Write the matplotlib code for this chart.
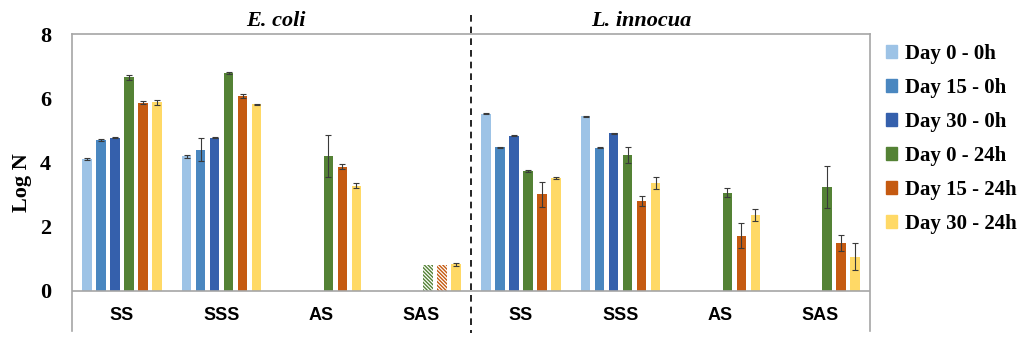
import numpy as np
import matplotlib
matplotlib.use('Agg')
import matplotlib.pyplot as plt

# categories: E. coli (SS, SSS, AS, SAS) then L. innocua (SS, SSS, AS, SAS)
categories = ['SS', 'SSS', 'AS', 'SAS', 'SS', 'SSS', 'AS', 'SAS']
series = ['Day 0 - 0h', 'Day 15 - 0h', 'Day 30 - 0h',
          'Day 0 - 24h', 'Day 15 - 24h', 'Day 30 - 24h']
colors = ['#9DC3E6', '#4A87C0', '#3560AC', '#548235', '#C55A11', '#FFD966']

nan = np.nan
d0_0h = [4.11, 4.19, nan, nan, 5.52, 5.44, nan, nan]
d15_0h = [4.70, 4.39, nan, nan, 4.47, 4.46, nan, nan]
d30_0h = [4.77, 4.77, nan, nan, 4.83, 4.91, nan, nan]
d0_24h = [6.65, 6.78, 4.21, 0.81, 3.73, 4.22, 3.06, 3.24]
d15_24h = [5.86, 6.06, 3.87, 0.81, 3.01, 2.81, 1.72, 1.49]
d30_24h = [5.87, 5.81, 3.27, 0.83, 3.52, 3.36, 2.37, 1.06]

e0_0h = [0.03, 0.05, nan, nan, 0.02, 0.02, nan, nan]
e15_0h = [0.03, 0.36, nan, nan, 0.02, 0.02, nan, nan]
e30_0h = [0.02, 0.02, nan, nan, 0.02, 0.02, nan, nan]
e0_24h = [0.08, 0.03, 0.65, nan, 0.03, 0.25, 0.13, 0.65]
e15_24h = [0.05, 0.06, 0.07, nan, 0.39, 0.16, 0.40, 0.25]
e30_24h = [0.09, 0.02, 0.08, 0.05, 0.04, 0.20, 0.19, 0.42]

# below-detection bars (E. coli SAS) drawn hatched
hatched = {3: [3], 4: [3]}

values = [d0_0h, d15_0h, d30_0h, d0_24h, d15_24h, d30_24h]
errors = [e0_0h, e15_0h, e30_0h, e0_24h, e15_24h, e30_24h]

serif = 'Liberation Serif'
sans = 'Liberation Sans'
plt.rcParams['hatch.linewidth'] = 1.0

fig = plt.figure(figsize=(10.24, 3.44), dpi=100)
ax = fig.add_axes([72 / 1024, 1 - 331 / 344, 798 / 1024, 297 / 344])

x = np.arange(len(categories))
step = 0.14
width = 0.095
for i, (vals, errs) in enumerate(zip(values, errors)):
    pos = x + (i - 2.5) * step
    vals = np.array(vals)
    for j in range(len(categories)):
        if np.isnan(vals[j]):
            continue
        if j in hatched.get(i, []):
            ax.bar(pos[j], vals[j], width, color='white', edgecolor=colors[i],
                   hatch='\\' * 9, linewidth=0)
        else:
            ax.bar(pos[j], vals[j], width, color=colors[i], linewidth=0)
    ax.errorbar(pos, vals, yerr=errs, fmt='none', ecolor='#3a3a3a',
                elinewidth=0.8, capsize=2.5, capthick=0.8)

ax.set_xlim(-0.5, 7.5)
ax.set_ylim(-1.25, 8)
ax.set_yticks([0, 2, 4, 6, 8])
ax.set_yticklabels(['0', '2', '4', '6', '8'], fontfamily=serif,
                   fontweight='bold', fontsize=16)
ax.tick_params(axis='y', length=0, pad=15)
ax.set_xticks([])
for s in ['left', 'top', 'right']:
    ax.spines[s].set_color('#A6A6A6')
    ax.spines[s].set_linewidth(1.2)
ax.spines['bottom'].set_visible(False)
ax.axhline(0, color='#A6A6A6', linewidth=1.2)

for xi, lab in zip(x, categories):
    ax.text(xi, -0.78, lab, ha='center', va='center', fontfamily=sans,
            fontweight='bold', fontsize=13)

ax.plot([3.5, 3.5], [8.6, -1.3], color='black', linestyle=(0, (4, 3)),
        linewidth=1.2, clip_on=False)

ax.text(1.545, 8.42, 'E. coli', ha='center', va='center', fontfamily=serif,
        fontweight='bold', fontstyle='italic', fontsize=16)
ax.text(5.21, 8.42, 'L. innocua', ha='center', va='center', fontfamily=serif,
        fontweight='bold', fontstyle='italic', fontsize=16)

ax.set_ylabel('Log N', fontfamily=serif, fontweight='bold', fontsize=16,
              labelpad=6)

handles = [plt.Rectangle((0, 0), 1, 1, color=c) for c in colors]
leg = fig.legend(handles, series, loc='upper left',
                 bbox_to_anchor=(886 / 1024, 1 - 44 / 344), frameon=False,
                 prop={'family': serif, 'weight': 'bold', 'size': 15},
                 handlelength=0.55, handleheight=0.55, handletextpad=0.35,
                 labelspacing=0.67, borderpad=0, borderaxespad=0)

fig.savefig('out.png', dpi=100)
